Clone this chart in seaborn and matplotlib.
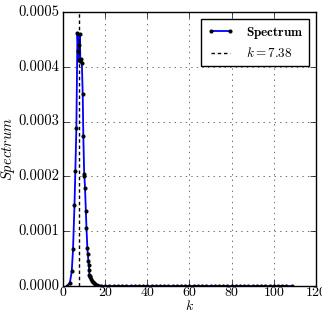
import matplotlib
matplotlib.use("Agg")
import matplotlib.pyplot as plt
import seaborn as sns
import pandas as pd
from matplotlib.ticker import FormatStrFormatter

# Spectrum data
k_values = [2.0, 3.2, 4.1, 4.7, 5.4, 5.8, 6.3, 6.8, 7.2, 7.5, 7.7, 7.9, 8.2, 8.6, 8.9,
            9.3, 9.6, 10.0, 10.1, 10.4, 10.8, 11.1, 11.5, 11.7, 12.0, 12.2, 12.3,
            12.5, 12.8, 13.0, 13.3, 13.6, 14.0, 14.5, 15.0, 16.0, 17.0,
            18, 20, 22, 24, 26, 28, 30, 32, 34, 36, 38, 40, 42, 44, 46, 48, 50,
            52, 54, 56, 58, 60, 62, 64, 66, 68, 70, 72, 74, 76, 78, 80, 82, 84,
            86, 88, 90, 92, 94, 96, 98, 100, 102, 104, 106, 108.6]
spectrum = [0.0000005, 0.000006, 0.0000265, 0.0000668, 0.000147, 0.000209, 0.000289,
            0.000462, 0.000428, 0.000412, 0.000440, 0.000460, 0.000410, 0.000414,
            0.000407, 0.000351, 0.000273, 0.000205, 0.000200, 0.000179, 0.000137,
            0.000105, 0.000070, 0.000059, 0.000046, 0.000038, 0.000030, 0.000021,
            0.000019, 0.000016, 0.000013, 0.000010, 0.000007, 0.000005, 0.000003,
            0.0000015, 0.0000008,
            0.0000004, 0.0000002, 0.0000001, 0.0000001, 0.0, 0.0, 0.0, 0.0, 0.0,
            0.0, 0.0, 0.0, 0.0, 0.0, 0.0, 0.0, 0.0, 0.0, 0.0, 0.0, 0.0, 0.0, 0.0,
            0.0, 0.0, 0.0, 0.0, 0.0, 0.0, 0.0, 0.0, 0.0, 0.0, 0.0, 0.0, 0.0, 0.0,
            0.0, 0.0, 0.0, 0.0, 0.0, 0.0, 0.0, 0.0, 0.0]
k_peak = 7.38
x_ticks = [0, 20, 40, 60, 80, 100, 120]
y_ticks = [0.0, 0.0001, 0.0002, 0.0003, 0.0004, 0.0005]

plt.style.use("classic")
plt.rcParams["font.family"] = "serif"
plt.rcParams["font.serif"] = ["cmr10", "DejaVu Serif"]
plt.rcParams["mathtext.fontset"] = "cm"
plt.rcParams["axes.formatter.use_mathtext"] = True
plt.rcParams["axes.unicode_minus"] = False

df = pd.DataFrame({"k": k_values, "Spectrum": spectrum})

fig = plt.figure(figsize=(3.22, 3.15), dpi=100)
fig.patch.set_facecolor("white")
ax = fig.add_axes([0.196, 0.092, 0.785, 0.870])

sns.lineplot(data=df, x="k", y="Spectrum", ax=ax, color="b", lw=1.3,
             marker="o", markersize=2.2, markerfacecolor="k", markeredgecolor="k",
             estimator=None, sort=True, label=r"$\mathbf{Spectrum}$")
ax.axvline(k_peak, color="k", ls="--", dashes=(2.5, 2), lw=1.0,
           label=r"$k = %.2f$" % k_peak)

ax.set_xlim(0, 120)
ax.set_ylim(0, 0.0005)
ax.set_xticks(x_ticks)
ax.set_yticks(y_ticks)
ax.yaxis.set_major_formatter(FormatStrFormatter("%.4f"))
ax.grid(True, color="k", ls=":", lw=0.5, alpha=0.8)
ax.tick_params(labelsize=10.5, direction="in")
ax.tick_params(axis="x", pad=0, labelsize=10)
ax.tick_params(axis="y", pad=3)
ax.set_xlabel(r"$k$", fontsize=10, labelpad=0)
ax.set_ylabel(r"$Spectrum$", fontsize=10.5, labelpad=0.5)

leg = ax.legend(loc="upper right", fontsize=9.5, numpoints=2, fancybox=False,
                handlelength=2.0, borderpad=0.45, labelspacing=0.45,
                handletextpad=0.9)
leg.get_frame().set_edgecolor("k")

fig.savefig("out.png", dpi=100, facecolor="white")
